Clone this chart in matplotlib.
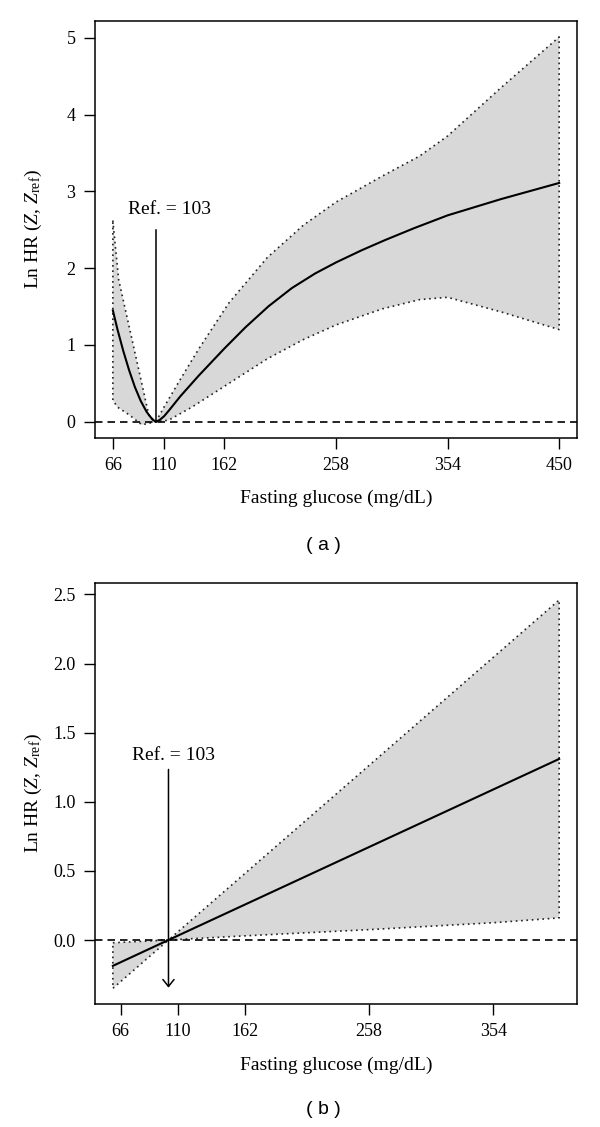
import matplotlib
matplotlib.use("Agg")
import matplotlib.pyplot as plt
import numpy as np

plt.rcParams['font.family'] = ['Liberation Serif', 'DejaVu Serif']
plt.rcParams['mathtext.fontset'] = 'custom'
plt.rcParams['mathtext.rm'] = 'Liberation Serif'
plt.rcParams['mathtext.it'] = 'Liberation Serif:italic'

# ---------------- Panel (a) data ----------------
a_xticks = [66, 110, 162, 258, 354, 450]
a_yticks = [0, 1, 2, 3, 4, 5]
a_est_x = [66, 70, 75, 80, 85, 90, 95, 100, 103, 106, 110, 115, 124, 140, 162, 180,
           200, 220, 240, 258, 280, 300, 325, 354, 400, 450]
a_est_y = [1.45, 1.20, 0.92, 0.67, 0.45, 0.27, 0.13, 0.03, 0.0, 0.02, 0.07, 0.16,
           0.33, 0.602, 0.954, 1.228, 1.504, 1.74, 1.93, 2.074, 2.232, 2.364, 2.519,
           2.687, 2.899, 3.109]
a_up_x = [66, 71, 80, 90, 97, 103, 110, 124, 140, 166, 199, 230, 258, 298, 330, 354, 400, 450]
a_up_y = [2.62, 1.85, 1.24, 0.56, 0.08, 0.0, 0.19, 0.55, 0.95, 1.55, 2.14, 2.56, 2.86,
          3.20, 3.46, 3.72, 4.35, 5.01]
a_lo_x = [66, 70, 80, 91, 97, 103, 114, 134, 166, 199, 230, 258, 298, 330, 354, 400, 450]
a_lo_y = [0.28, 0.19, 0.09, -0.04, -0.02, 0.0, 0.02, 0.19, 0.50, 0.82, 1.07, 1.26, 1.47,
          1.59, 1.62, 1.43, 1.20]
a_ref = 103
a_ref_top = 2.5

# ---------------- Panel (b) data ----------------
b_xticks = [66, 110, 162, 258, 354]
b_yticks = [0.0, 0.5, 1.0, 1.5, 2.0, 2.5]
b_est_x = [60, 103, 405]
b_est_y = [-0.187, 0.0, 1.31]
b_up_x = [60, 103, 405]
b_up_y = [-0.02, 0.0, 2.46]
b_lo_x = [60, 103, 162, 258, 354, 405]
b_lo_y = [-0.35, 0.0, 0.03, 0.075, 0.125, 0.16]
b_ref = 103
b_ref_top = 1.234
b_ref_bottom = -0.345

xlabel = "Fasting glucose (mg/dL)"
ylabel = r"Ln HR ($Z$, $Z_{\mathrm{ref}}$)"

FILL = '#d8d8d8'
W, H = 600, 1127
fig = plt.figure(figsize=(W / 100, H / 100), dpi=100)


def frac(l, t, r, b):
    return [l / W, 1 - b / H, (r - l) / W, (b - t) / H]


def panel(ax, ex, ey, ux, uy, lx, ly, xticks, yticks, xlim, ylim, yfmt):
    px = list(ux) + list(lx[::-1])
    py = list(uy) + list(ly[::-1])
    ax.fill(px, py, facecolor=FILL, edgecolor='none', zorder=1)
    ax.plot(px + [px[0]], py + [py[0]], color='#222222', lw=1.2,
            ls=(0, (1, 2.2)), zorder=2)
    ax.axhline(0, color='black', lw=1.2, ls=(0, (4.5, 3)), zorder=3)
    ax.plot(ex, ey, color='black', lw=1.5, zorder=4, solid_joinstyle='round')
    ax.set_xlim(*xlim)
    ax.set_ylim(*ylim)
    ax.set_xticks(xticks)
    ax.set_yticks(yticks)
    ax.set_yticklabels([yfmt.format(v) for v in yticks])
    ax.tick_params(direction='out', length=8, width=1, labelsize=13, pad=6)
    for s in ax.spines.values():
        s.set_linewidth(1.1)
    ax.set_xlabel(xlabel, fontsize=14)
    ax.set_ylabel(ylabel, fontsize=14)
    ax.xaxis.set_label_coords(0.5, -0.145)
    ax.xaxis.label.set_va('center')
    ax.yaxis.set_label_coords(-0.128, 0.5)
    ax.yaxis.label.set_va('center')


# Panel (a)
ax1 = fig.add_axes(frac(95, 21, 577, 438))
panel(ax1, a_est_x, a_est_y, a_up_x, a_up_y, a_lo_x, a_lo_y, a_xticks, a_yticks,
      (50.64, 465.36), (-0.212, 5.218), "{:.0f}")
ax1.plot([a_ref, a_ref], [0, a_ref_top], color='black', lw=1.1, zorder=5)
ax1.text(114.8, 2.76, "Ref. = 103", ha='center', va='center', fontsize=14)
fig.text(323 / W, 1 - 546 / H, "( a )", ha='center', va='center', fontsize=14,
         family=['Liberation Sans', 'DejaVu Sans'])

# Panel (b)
ax2 = fig.add_axes(frac(95, 583, 577, 1004))
panel(ax2, b_est_x, b_est_y, b_up_x, b_up_y, b_lo_x, b_lo_y, b_xticks, b_yticks,
      (46.2, 418.8), (-0.463, 2.583), "{:.1f}")
ax2.annotate("", xy=(b_ref, b_ref_bottom), xytext=(b_ref, b_ref_top),
             arrowprops=dict(arrowstyle='->, head_length=0.5, head_width=0.4',
                             color='black', lw=1.1, shrinkA=0, shrinkB=0,
                             mutation_scale=10), zorder=5)
ax2.text(106.8, 1.334, "Ref. = 103", ha='center', va='center', fontsize=14)
fig.text(323 / W, 1 - 1110 / H, "( b )", ha='center', va='center', fontsize=14,
         family=['Liberation Sans', 'DejaVu Sans'])

fig.savefig("out.png", dpi=100)
